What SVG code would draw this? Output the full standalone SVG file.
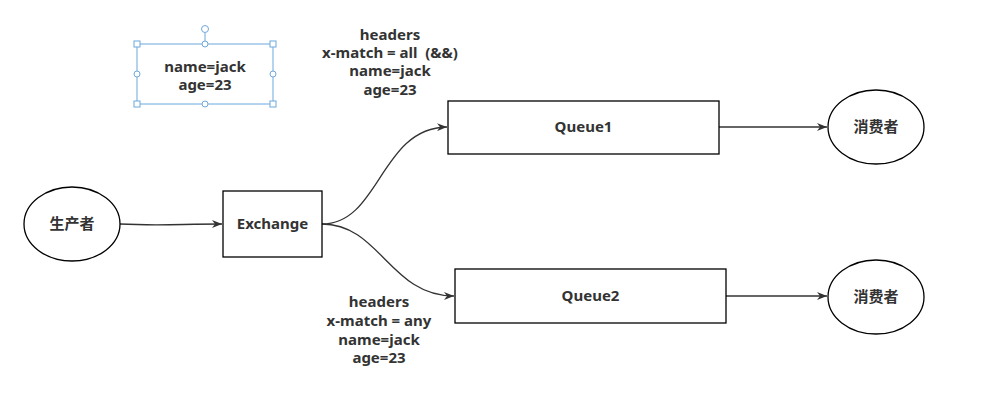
<svg xmlns="http://www.w3.org/2000/svg" width="1003" height="419" viewBox="0 0 1003 419">
<style>
.shape{fill:#fff;stroke:#000;stroke-width:1.3}
.t{font-family:"Noto Sans","Liberation Sans","Noto Sans CJK SC",sans-serif;font-weight:bold;font-size:15px;fill:#333;text-anchor:middle}
.edge{fill:none;stroke:#333;stroke-width:1.3}
.sel{fill:none;stroke:#6fa8dc;stroke-width:1}
.h{fill:#fff;stroke:#6fa8dc;stroke-width:1}
</style>
<defs>
<marker id="arr" viewBox="0 0 10 8" refX="10" refY="4" markerWidth="10" markerHeight="8" markerUnits="userSpaceOnUse" orient="auto">
<path d="M0,0 L10,4 L0,8 L3,4 Z" fill="#333"/>
</marker>
</defs>
<rect width="1003" height="419" fill="#fff"/>
<g id="connectors">
<path class="edge" d="M120,224 C160,226 180,224 222,224" marker-end="url(#arr)"/>
<path class="edge" d="M322,224 C380,224 380,128 447,127" marker-end="url(#arr)"/>
<path class="edge" d="M322,224 C380,224 390,296 454,296" marker-end="url(#arr)"/>
<path class="edge" d="M719,127 L827,127" marker-end="url(#arr)"/>
<path class="edge" d="M726,296 L827,296" marker-end="url(#arr)"/>
</g>
<g id="producer">
<ellipse class="shape" cx="72" cy="224" rx="48" ry="37"/>
<text class="t" x="72" y="229">生产者</text>
</g>
<g id="exchange">
<rect class="shape" x="223" y="191" width="99" height="66"/>
<text class="t" x="272.5" y="229">Exchange</text>
</g>
<g id="queue1">
<rect class="shape" x="448" y="101" width="271" height="53"/>
<text class="t" x="583.5" y="132">Queue1</text>
</g>
<g id="queue2">
<rect class="shape" x="455" y="269" width="271" height="54"/>
<text class="t" x="590.5" y="301">Queue2</text>
</g>
<g id="consumer1">
<ellipse class="shape" cx="876" cy="127" rx="48" ry="37"/>
<text class="t" x="876" y="132">消费者</text>
</g>
<g id="consumer2">
<ellipse class="shape" cx="876" cy="297" rx="48" ry="37"/>
<text class="t" x="876" y="302">消费者</text>
</g>
<g id="note">
<rect class="sel" x="137" y="44" width="136" height="60"/>
<line class="sel" x1="205" y1="33" x2="205" y2="44"/>
<circle class="h" cx="205" cy="29" r="3.5"/>
<rect class="h" x="134" y="41" width="6" height="6"/>
<rect class="h" x="270" y="41" width="6" height="6"/>
<rect class="h" x="134" y="101" width="6" height="6"/>
<rect class="h" x="270" y="101" width="6" height="6"/>
<circle class="h" cx="205" cy="44" r="3"/>
<circle class="h" cx="205" cy="104" r="3"/>
<circle class="h" cx="137" cy="74" r="3"/>
<circle class="h" cx="273" cy="74" r="3"/>
<text class="t" x="205" y="72">name=jack</text>
<text class="t" x="205" y="90">age=23</text>
</g>
<g id="label1">
<text class="t" x="390" y="40">headers</text>
<text class="t" x="390" y="58" xml:space="preserve">x-match = all  (&amp;&amp;)</text>
<text class="t" x="390" y="76">name=jack</text>
<text class="t" x="390" y="95">age=23</text>
</g>
<g id="label2">
<text class="t" x="379" y="307">headers</text>
<text class="t" x="379" y="326">x-match = any</text>
<text class="t" x="379" y="345">name=jack</text>
<text class="t" x="379" y="363">age=23</text>
</g>
</svg>
